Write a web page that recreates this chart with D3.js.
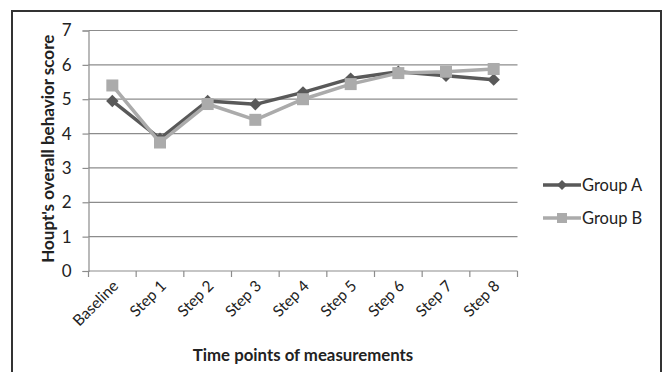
<!DOCTYPE html>
<html>
<head>
<meta charset="utf-8">
<script src="https://cdn.jsdelivr.net/npm/d3@7"></script>
<style>
  html, body { margin: 0; padding: 0; background: #fff; }
  svg { display: block; }
  text { font-family: "Lato", "Open Sans", sans-serif; fill: #222; }
</style>
</head>
<body>
<svg id="chart" width="665" height="372"></svg>
<script>
// Time points and mean behaviour scores per group
const categories = ["Baseline", "Step 1", "Step 2", "Step 3", "Step 4", "Step 5", "Step 6", "Step 7", "Step 8"];
const groupA = [4.95, 3.85, 4.95, 4.85, 5.2, 5.6, 5.8, 5.68, 5.57];
const groupB = [5.4, 3.74, 4.86, 4.4, 5.0, 5.44, 5.76, 5.8, 5.88];
const seriesNames = ["Group A", "Group B"];
const yTicks = [0, 1, 2, 3, 4, 5, 6, 7];

const svg = d3.select("#chart");
const W = 665, H = 372;
const margin = { left: 88.5, right: 665 - 517.5, top: 30.5, bottom: 372 - 271 };

// outer frame (bottom edge falls outside the view)
svg.append("rect")
  .attr("x", 12).attr("y", 11)
  .attr("width", 661 - 12).attr("height", 400)
  .attr("fill", "none").attr("stroke", "#333").attr("stroke-width", 2);

const x = d3.scaleBand().domain(categories).range([margin.left, W - margin.right]).paddingInner(0).paddingOuter(0);
const y = d3.scaleLinear().domain([0, 7]).range([H - margin.bottom, margin.top]);

// horizontal gridlines
svg.append("g").selectAll("line")
  .data(yTicks.filter(d => d > 0))
  .join("line")
  .attr("x1", margin.left).attr("x2", W - margin.right)
  .attr("y1", d => y(d)).attr("y2", d => y(d))
  .attr("stroke", "#8c8c8c").attr("stroke-width", 1.2);

// y axis
const yAxis = svg.append("g")
  .attr("transform", `translate(${margin.left},0)`)
  .call(d3.axisLeft(y).tickValues(yTicks).tickSize(6).tickPadding(11).tickFormat(d3.format("d")));
yAxis.select(".domain").attr("stroke", "#8c8c8c").attr("stroke-width", 1.2);
yAxis.selectAll(".tick line").attr("stroke", "#8c8c8c").attr("stroke-width", 1.2);
yAxis.selectAll(".tick text")
  .attr("font-size", 17).attr("fill", "#222")
  .style("font-family", "Lato, sans-serif");

// x axis with ticks at category boundaries
const xAxisG = svg.append("g").attr("transform", `translate(0,${y(0)})`);
xAxisG.append("line")
  .attr("x1", margin.left).attr("x2", W - margin.right)
  .attr("y1", 0).attr("y2", 0)
  .attr("stroke", "#8c8c8c").attr("stroke-width", 1.2);
const boundaries = categories.map(c => x(c)).concat([x(categories[categories.length - 1]) + x.bandwidth()]);
xAxisG.selectAll("line.tk")
  .data(boundaries)
  .join("line").attr("class", "tk")
  .attr("x1", d => d).attr("x2", d => d)
  .attr("y1", 0).attr("y2", 6)
  .attr("stroke", "#8c8c8c").attr("stroke-width", 1.2);
xAxisG.selectAll("text.lbl")
  .data(categories)
  .join("text").attr("class", "lbl")
  .attr("transform", d => `translate(${x(d) + x.bandwidth() / 2 + 7},${16}) rotate(-45)`)
  .attr("text-anchor", "end")
  .attr("font-size", 15.5)
  .text(d => d);

// axis titles
svg.append("text")
  .attr("x", 303).attr("y", 361)
  .attr("text-anchor", "middle")
  .attr("font-size", 16.8).attr("font-weight", "bold")
  .text("Time points of measurements");
svg.append("text")
  .attr("transform", `translate(54,${(y(0) + y(7)) / 2 - 2}) rotate(-90)`)
  .attr("text-anchor", "middle")
  .attr("font-size", 17).attr("font-weight", "bold")
  .text("Houpt's overall behavior score");

// series
const colors = ["#595959", "#ababab"];
const line = d3.line().x((d, i) => x(categories[i]) + x.bandwidth() / 2).y(d => y(d));

function drawMarkers(g, data, idx) {
  if (idx === 0) {
    const s = 6.2;
    g.selectAll("path.mk").data(data).join("path").attr("class", "mk")
      .attr("d", (d, i) => {
        const cx = x(categories[i]) + x.bandwidth() / 2, cy = y(d);
        return `M${cx},${cy - s}L${cx + s},${cy}L${cx},${cy + s}L${cx - s},${cy}Z`;
      })
      .attr("fill", colors[0]);
  } else {
    const s = 6;
    g.selectAll("rect.mk").data(data).join("rect").attr("class", "mk")
      .attr("x", (d, i) => x(categories[i]) + x.bandwidth() / 2 - s)
      .attr("y", d => y(d) - s)
      .attr("width", 2 * s).attr("height", 2 * s)
      .attr("fill", colors[1]);
  }
}

[groupA, groupB].forEach((data, idx) => {
  const g = svg.append("g");
  g.append("path").datum(data)
    .attr("d", line)
    .attr("fill", "none")
    .attr("stroke", colors[idx])
    .attr("stroke-width", 3.5)
    .attr("stroke-linejoin", "round");
  drawMarkers(g, data, idx);
});

// legend
const legend = svg.append("g");
seriesNames.forEach((name, i) => {
  const cy = 185 + i * 33;
  legend.append("line")
    .attr("x1", 543).attr("x2", 581).attr("y1", cy).attr("y2", cy)
    .attr("stroke", colors[i]).attr("stroke-width", 3.5);
  if (i === 0) {
    const s = 5;
    legend.append("path")
      .attr("d", `M562,${cy - s}L${562 + s},${cy}L562,${cy + s}L${562 - s},${cy}Z`)
      .attr("fill", colors[0]);
  } else {
    legend.append("rect")
      .attr("x", 562 - 5).attr("y", cy - 5).attr("width", 10).attr("height", 10)
      .attr("fill", colors[1]);
  }
  legend.append("text")
    .attr("x", 582).attr("y", cy + 6)
    .attr("font-size", 16.5)
    .text(name);
});
</script>
</body>
</html>
